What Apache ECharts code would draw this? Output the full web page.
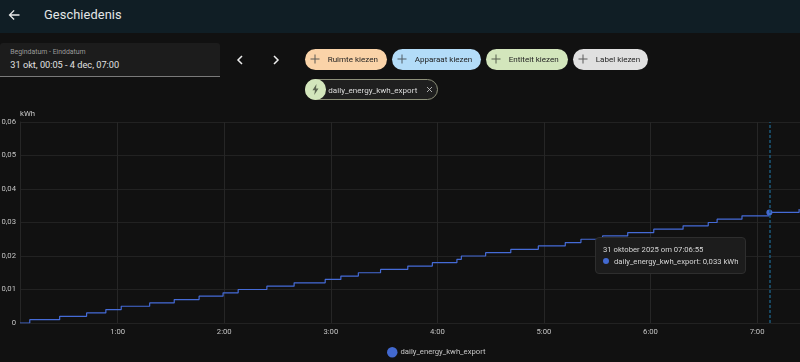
<!DOCTYPE html>
<html><head><meta charset="utf-8">
<style>
html,body{margin:0;padding:0;width:800px;height:362px;overflow:hidden;background:#111111;font-family:Roboto,sans-serif;color:#e1e1e1}
#page{position:absolute;left:0;top:0;width:800px;height:362px;filter:blur(.3px)}
#chart{position:absolute;left:0;top:0;width:800px;height:362px}
.hdr{position:absolute;left:0;top:0;width:800px;height:33px;background:#101e25}
.abs{position:absolute;white-space:nowrap}
.box{position:absolute;left:0;top:43px;width:219.500px;height:33px;background:#1c1c1c;border-bottom:1px solid #7a7a7a;border-radius:3px 3px 0 0}
.chip{position:absolute;top:48.500px;height:21px;border-radius:10.500px;color:#1f1f1f;font-size:8.050px;line-height:21px;box-sizing:border-box;text-align:left}
.chip svg{position:absolute;left:4px;top:4.500px}
.chip span{position:absolute;top:0;white-space:nowrap}
</style></head><body>
<div id="page">
<div class="hdr"></div>
<svg class="abs" style="left:5.500px;top:7px" width="16" height="16" viewBox="0 0 16 16"><path d="M13.500 7.200H5.200L8.600 3.800 7.600 3 2.600 8l5 5 1-1-3.400-3.200h8.300z" fill="#e8e8e8"/></svg>
<div class="abs" style="left:44px;top:6px;font-size:12.800px;line-height:17px;color:#e4e6e7;letter-spacing:.1px">Geschiedenis</div>
<div class="box"></div>
<div class="abs" style="left:10.300px;top:48px;font-size:6.900px;line-height:9px;color:#9a9a9a">Begindatum - Einddatum</div>
<div class="abs" style="left:10.300px;top:58px;font-size:9.200px;line-height:13px;color:#e1e1e1">31 okt, 00:05 - 4 dec, 07:00</div>
<svg class="abs" style="left:234px;top:54px" width="12" height="12" viewBox="0 0 12 12"><path d="M8 2 4 6l4 4" fill="none" stroke="#eee" stroke-width="1.500"/></svg>
<svg class="abs" style="left:270px;top:54px" width="12" height="12" viewBox="0 0 12 12"><path d="M4 2l4 4-4 4" fill="none" stroke="#eee" stroke-width="1.500"/></svg>
<div class="chip" style="left:305px;width:81.700px;background:#fad3a8"><svg width="12" height="12" viewBox="0 0 12 12"><path d="M6 1.500v9M1.500 6h9" stroke="#5c5a55" stroke-width="1"/></svg><span style="left:22.700px">Ruimte kiezen</span></div>
<div class="chip" style="left:391.700px;width:89.300px;background:#b3dcf8"><svg width="12" height="12" viewBox="0 0 12 12"><path d="M6 1.500v9M1.500 6h9" stroke="#505c64" stroke-width="1"/></svg><span style="left:23px">Apparaat kiezen</span></div>
<div class="chip" style="left:485.700px;width:82px;background:#d3e6bc"><svg width="12" height="12" viewBox="0 0 12 12"><path d="M6 1.500v9M1.500 6h9" stroke="#565f4e" stroke-width="1"/></svg><span style="left:23px">Entiteit kiezen</span></div>
<div class="chip" style="left:572.700px;width:75.600px;background:#e0e0e0"><svg width="12" height="12" viewBox="0 0 12 12"><path d="M6 1.500v9M1.500 6h9" stroke="#5a5a5a" stroke-width="1"/></svg><span style="left:23px">Label kiezen</span></div>
<div class="abs" style="left:305px;top:79.300px;width:132.700px;height:20.700px;box-sizing:border-box;border:1px solid #8d9079;border-radius:11px;background:#1f1f1f"></div>
<div class="abs" style="left:305px;top:79.300px;width:20.700px;height:20.700px;border-radius:50%;background:#d3e6bc"></div>
<svg class="abs" style="left:310px;top:84px" width="11" height="11" viewBox="0 0 11 11"><path d="M6.500 0 2.500 6.200H5L4.200 11 8.500 4.500H6z" fill="#5c6652"/></svg>
<div class="abs" style="left:328.300px;top:79.500px;font-size:8.050px;line-height:21px;color:#dcdcdc">daily_energy_kwh_export</div>
<svg class="abs" style="left:426px;top:86px" width="7" height="7" viewBox="0 0 7 7"><path d="M1 1l5 5M6 1l-5 5" stroke="#bdbdbd" stroke-width=".9"/></svg>
<div id="chart"></div>
</div>
<script src="https://cdn.jsdelivr.net/npm/echarts@6/dist/echarts.min.js"></script>
<script>
const seriesName = 'daily_energy_kwh_export';
const day = '2025-10-31 ';
const times = ['00:05:00','00:10:30','00:27:20','00:42:30','00:53:20','01:02:00','01:18:00','01:31:50','01:45:50','01:59:20','02:07:50','02:24:00','02:39:20','02:56:50','03:05:40','03:15:30','03:28:00','03:43:20','03:57:10','04:11:00','04:13:30','04:27:10','04:41:20','04:56:50','05:12:00','05:20:50','05:33:00','05:47:10','06:01:50','06:18:20','06:32:30','06:37:30','06:51:30','07:06:55','07:23:40'];
const values = [0,0.001,0.002,0.003,0.004,0.005,0.006,0.007,0.008,0.009,0.01,0.011,0.012,0.013,0.014,0.015,0.016,0.017,0.018,0.019,0.02,0.021,0.022,0.023,0.024,0.025,0.026,0.027,0.028,0.029,0.03,0.031,0.032,0.033,0.034];
const tooltipTitle = '31 oktober 2025 om 07:06:55';
const tooltipValue = '0,033 kWh';
const axisMin = day + '00:05:00';
const axisMax = day + '07:24:10';
const chart = echarts.init(document.getElementById('chart'), null, {renderer:'canvas'});
const comma = v => v === 0 ? '0' : v.toFixed(2).replace('.', ',');
const pointer = {type:'line',snap:true,label:{show:false},lineStyle:{color:'#1b5a7c',type:[3,2],width:1.5}};
chart.setOption({
  animation:false,
  backgroundColor:'transparent',
  textStyle:{fontFamily:'Roboto'},
  grid:{left:20,right:0,top:122,bottom:39,containLabel:false,outerBoundsMode:'none'},
  legend:{show:true,left:387,top:347,itemWidth:10.500,itemHeight:10.500,itemGap:4,icon:'circle',
    textStyle:{color:'#c8c8c8',fontSize:7.700,fontFamily:'Roboto',padding:[0,0,0,-2]},data:[seriesName],padding:0},
  xAxis:{type:'time',min:axisMin,max:axisMax,minInterval:3600000,maxInterval:3600000,
    axisLine:{show:false},axisTick:{show:false},
    axisLabel:{color:'#c4c4c4',fontSize:7.700,margin:5,showMinLabel:false,showMaxLabel:false,hideOverlap:true,
      formatter:v=>{const d=new Date(v);return d.getHours()+':'+String(d.getMinutes()).padStart(2,'0');}},
    splitLine:{show:true,lineStyle:{color:'#262626',width:1}},
    axisPointer:Object.assign({show:true},pointer)},
  yAxis:{type:'value',min:0,max:0.06,interval:0.01,name:'kWh',nameLocation:'end',nameGap:4,
    nameTextStyle:{color:'#c8c8c8',fontSize:7.700,align:'left',padding:[0,0,0,0]},
    axisLine:{show:true,lineStyle:{color:'#262626'}},axisTick:{show:false},
    axisLabel:{color:'#c4c4c4',fontSize:7.700,margin:4,formatter:comma},
    splitLine:{show:true,lineStyle:{color:'#222222',width:1}}},
  tooltip:{trigger:'axis',alwaysShowContent:true,transitionDuration:0,axisPointer:pointer,
    backgroundColor:'#1c1c1c',borderColor:'#2e2e2e',borderWidth:1,padding:[6,7],
    extraCssText:'box-shadow:none;border-radius:4px;',
    position:()=>[595,236.500],
    textStyle:{color:'#d6d6d6',fontSize:7.700,fontFamily:'Roboto'},
    formatter:()=>'<div style="line-height:11.7px;font-size:7.7px;color:#d6d6d6;white-space:nowrap">'+tooltipTitle+'<br><span style="display:inline-block;width:6px;height:6px;border-radius:50%;background:#4269d0;margin-right:5px"></span>'+seriesName+': '+tooltipValue+'</div>'},
  series:[{name:seriesName,type:'line',step:'end',showSymbol:false,symbol:'circle',symbolSize:4.500,
    color:'#4269d0',lineStyle:{width:1.2,color:'#3f62c4'},
    data:times.map((t,i)=>[day+t,values[i]])}]
});
chart.dispatchAction({type:'showTip',seriesIndex:0,dataIndex:times.indexOf('07:06:55')});
</script>
</body></html>
